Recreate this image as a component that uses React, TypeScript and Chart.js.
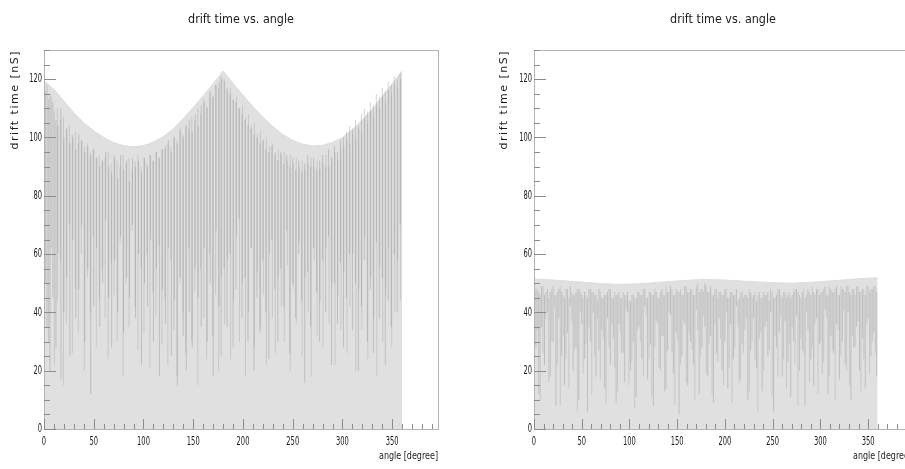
import React, { useEffect, useRef } from "react";
import { Chart, registerables } from "chart.js";

Chart.register(...registerables);

const FONT = "'DejaVu Sans', 'Liberation Sans', sans-serif";

const titleText = "drift time vs. angle";
const yTitleText = "drift time [nS]";
const xTitleText = "angle [degree]";

// axis ticks
const angleTicks = [0, 50, 100, 150, 200, 250, 300, 350];
const timeTicks = [0, 20, 40, 60, 80, 100, 120];
const angleMax = 396;
const timeMax = 130;

// upper envelope of the drift time, left panel
const leftEnvAngle = [0, 10, 20, 30, 40, 50, 60, 70, 80, 90, 100, 110, 120, 130, 140, 150, 160, 170, 180, 190, 200, 210, 220, 230, 240, 250, 260, 270, 280, 290, 300, 310, 320, 330, 340, 350, 360];
const leftEnvTime = [119.5, 116.5, 112.5, 108.5, 105, 102.3, 100, 98.2, 97.2, 96.8, 97.2, 98.4, 100.3, 103, 106.5, 110.3, 114.3, 118.4, 122.8, 118.6, 114.5, 110.6, 107, 103.8, 101, 99, 97.7, 97.1, 97.3, 98.3, 100, 102.7, 106, 109.8, 114, 118.4, 122.9];

// upper envelope of the drift time, right panel
const rightEnvAngle = [0, 20, 45, 70, 90, 110, 135, 160, 180, 200, 225, 250, 270, 290, 315, 340, 360];
const rightEnvTime = [51.4, 51.1, 50.5, 49.9, 49.6, 49.8, 50.4, 51, 51.3, 51.1, 50.6, 50.2, 50, 50.3, 50.9, 51.5, 51.9];

// hit streaks, left panel (first pass)
const leftStreakAngle = [3, 6, 9, 12, 14, 17, 20, 23, 26, 29, 32, 35, 38, 41, 44, 47, 50, 53, 56, 59, 62, 65, 68, 71, 74, 77, 80, 83, 86, 89, 92, 95, 98, 101, 104, 107, 110, 113, 116, 119, 122, 125, 128, 131, 134, 137, 140, 143, 146, 149, 152, 155, 158, 161, 164, 167, 170, 173, 176, 178, 181, 184, 187, 190, 193, 196, 199, 202, 205, 208, 211, 214, 217, 220, 223, 226, 229, 232, 235, 238, 241, 244, 247, 250, 253, 256, 259, 262, 265, 268, 271, 274, 277, 280, 283, 286, 289, 292, 295, 298, 301, 304, 307, 310, 313, 316, 319, 322, 325, 328, 331, 334, 337, 340, 343, 346, 349, 352, 355, 358];
const leftStreakLow = [35, 20, 45, 28, 60, 17, 40, 52, 25, 65, 38, 48, 70, 30, 55, 12, 42, 62, 35, 50, 72, 45, 28, 58, 40, 66, 33, 52, 45, 70, 38, 60, 22, 50, 42, 65, 30, 55, 18, 48, 36, 62, 25, 44, 15, 52, 32, 20, 40, 28, 55, 45, 35, 62, 30, 50, 18, 68, 42, 25, 55, 35, 60, 28, 48, 72, 38, 52, 30, 62, 20, 45, 33, 58, 40, 24, 65, 48, 30, 55, 42, 68, 26, 50, 38, 60, 44, 16, 54, 35, 62, 47, 30, 58, 40, 66, 22, 50, 36, 57, 28, 45, 60, 34, 50, 20, 42, 58, 30, 48, 26, 64, 38, 52, 22, 44, 35, 60, 40, 70];
const leftStreakHigh = [118, 115, 112, 106, 104, 110, 100, 103, 98, 100, 96, 101, 99, 95, 97, 94, 96, 93, 90, 92, 95, 90, 88, 93, 86, 94, 89, 92, 85, 93, 90, 92, 88, 93, 90, 94, 92, 95, 93, 96, 97, 99, 95, 100, 98, 103, 100, 104, 106, 102, 108, 104, 111, 112, 110, 116, 114, 118, 119, 121, 120, 117, 115, 113, 112, 110, 108, 106, 104, 103, 101, 100, 98, 99, 96, 95, 97, 94, 92, 95, 91, 94, 90, 93, 89, 92, 88, 91, 94, 90, 93, 89, 92, 94, 90, 96, 93, 97, 95, 99, 100, 102, 104, 103, 106, 104, 108, 110, 109, 112, 111, 115, 114, 117, 116, 119, 118, 121, 120, 122];

// hit streaks, left panel (second pass, interleaved)
const leftStreak2Angle = [1.5, 4.5, 7.5, 10.5, 13.5, 16.5, 19.5, 22.5, 25.5, 28.5, 31.5, 34.5, 37.5, 40.5, 43.5, 46.5, 49.5, 52.5, 55.5, 58.5, 61.5, 64.5, 67.5, 70.5, 73.5, 76.5, 79.5, 82.5, 85.5, 88.5, 91.5, 94.5, 97.5, 100.5, 103.5, 106.5, 109.5, 112.5, 115.5, 118.5, 121.5, 124.5, 127.5, 130.5, 133.5, 136.5, 139.5, 142.5, 145.5, 148.5, 151.5, 154.5, 157.5, 160.5, 163.5, 166.5, 169.5, 172.5, 175.5, 178.5, 181.5, 184.5, 187.5, 190.5, 193.5, 196.5, 199.5, 202.5, 205.5, 208.5, 211.5, 214.5, 217.5, 220.5, 223.5, 226.5, 229.5, 232.5, 235.5, 238.5, 241.5, 244.5, 247.5, 250.5, 253.5, 256.5, 259.5, 262.5, 265.5, 268.5, 271.5, 274.5, 277.5, 280.5, 283.5, 286.5, 289.5, 292.5, 295.5, 298.5, 301.5, 304.5, 307.5, 310.5, 313.5, 316.5, 319.5, 322.5, 325.5, 328.5, 331.5, 334.5, 337.5, 340.5, 343.5, 346.5, 349.5, 352.5, 355.5, 358.5];
const leftStreak2Low = [50, 30, 62, 22, 44, 58, 15, 36, 70, 26, 48, 33, 60, 20, 52, 40, 66, 28, 45, 55, 38, 24, 57, 46, 30, 64, 18, 50, 35, 68, 42, 27, 55, 33, 60, 21, 47, 39, 63, 29, 45, 22, 58, 34, 18, 50, 40, 26, 62, 30, 47, 15, 55, 38, 24, 60, 32, 46, 20, 52, 36, 58, 24, 44, 66, 30, 50, 18, 40, 62, 28, 54, 35, 46, 22, 60, 38, 26, 52, 42, 30, 56, 20, 48, 36, 64, 25, 52, 40, 18, 58, 32, 44, 28, 62, 36, 50, 22, 46, 34, 54, 26, 42, 60, 20, 48, 34, 66, 24, 52, 38, 18, 56, 30, 46, 62, 28, 40, 58, 44];
const leftStreak2High = [116, 113, 114, 109, 110, 106, 107, 103, 104, 101, 102, 98, 99, 97, 98, 95, 96, 93, 94, 92, 93, 95, 91, 94, 92, 90, 94, 91, 93, 89, 92, 94, 90, 93, 91, 94, 92, 95, 93, 96, 96, 98, 97, 100, 99, 102, 101, 104, 103, 107, 106, 110, 108, 113, 111, 115, 114, 118, 117, 120, 119, 116, 117, 113, 114, 110, 111, 107, 108, 104, 105, 101, 102, 99, 100, 97, 98, 95, 96, 94, 95, 92, 94, 91, 93, 90, 92, 89, 91, 93, 90, 92, 89, 91, 94, 90, 93, 95, 92, 96, 97, 99, 98, 101, 100, 103, 102, 106, 105, 109, 107, 111, 110, 114, 112, 116, 115, 118, 117, 120];

// hit streaks, right panel (first pass)
const rightStreakAngle = [2, 5, 8, 11, 14, 17, 20, 23, 26, 29, 32, 35, 38, 41, 44, 47, 50, 53, 56, 59, 62, 65, 68, 71, 74, 77, 80, 83, 86, 89, 92, 95, 98, 101, 104, 107, 110, 113, 116, 119, 122, 125, 128, 131, 134, 137, 140, 143, 146, 149, 152, 155, 158, 161, 164, 167, 170, 173, 176, 179, 182, 185, 188, 191, 194, 197, 200, 203, 206, 209, 212, 215, 218, 221, 224, 227, 230, 233, 236, 239, 242, 245, 248, 251, 254, 257, 260, 263, 266, 269, 272, 275, 278, 281, 284, 287, 290, 293, 296, 299, 302, 305, 308, 311, 314, 317, 320, 323, 326, 329, 332, 335, 338, 341, 344, 347, 350, 353, 356, 359];
const rightStreakLow = [28, 12, 35, 22, 40, 18, 30, 8, 38, 25, 15, 33, 42, 20, 28, 10, 36, 24, 6, 30, 40, 18, 27, 34, 14, 38, 22, 31, 9, 36, 26, 16, 40, 20, 30, 11, 35, 24, 42, 17, 29, 8, 37, 21, 32, 13, 27, 39, 19, 33, 5, 25, 36, 15, 30, 22, 41, 12, 28, 35, 18, 32, 9, 26, 38, 20, 30, 14, 36, 24, 42, 16, 29, 34, 10, 27, 38, 21, 31, 13, 35, 25, 40, 6, 28, 33, 18, 37, 23, 11, 30, 39, 20, 27, 8, 34, 24, 15, 38, 29, 19, 41, 12, 32, 26, 36, 17, 30, 22, 40, 10, 28, 35, 20, 31, 14, 38, 25, 33, 18];
const rightStreakHigh = [48, 47, 49, 46, 48, 47, 49, 46, 48, 47, 45, 48, 49, 46, 47, 48, 46, 47, 45, 48, 47, 46, 48, 45, 46, 47, 48, 45, 46, 47, 45, 46, 47, 44, 46, 45, 47, 46, 48, 45, 47, 46, 47, 45, 48, 46, 47, 49, 46, 48, 47, 46, 49, 47, 48, 46, 49, 47, 48, 50, 47, 49, 46, 48, 47, 46, 48, 45, 47, 46, 48, 45, 47, 46, 45, 47, 46, 44, 47, 45, 46, 47, 48, 45, 46, 48, 45, 47, 46, 45, 47, 48, 46, 47, 45, 48, 46, 47, 48, 46, 47, 49, 46, 48, 47, 49, 46, 48, 47, 49, 46, 48, 49, 47, 48, 46, 49, 48, 49, 47];

// hit streaks, right panel (second pass, interleaved)
const rightStreak2Angle = [0.5, 3.5, 6.5, 9.5, 12.5, 15.5, 18.5, 21.5, 24.5, 27.5, 30.5, 33.5, 36.5, 39.5, 42.5, 45.5, 48.5, 51.5, 54.5, 57.5, 60.5, 63.5, 66.5, 69.5, 72.5, 75.5, 78.5, 81.5, 84.5, 87.5, 90.5, 93.5, 96.5, 99.5, 102.5, 105.5, 108.5, 111.5, 114.5, 117.5, 120.5, 123.5, 126.5, 129.5, 132.5, 135.5, 138.5, 141.5, 144.5, 147.5, 150.5, 153.5, 156.5, 159.5, 162.5, 165.5, 168.5, 171.5, 174.5, 177.5, 180.5, 183.5, 186.5, 189.5, 192.5, 195.5, 198.5, 201.5, 204.5, 207.5, 210.5, 213.5, 216.5, 219.5, 222.5, 225.5, 228.5, 231.5, 234.5, 237.5, 240.5, 243.5, 246.5, 249.5, 252.5, 255.5, 258.5, 261.5, 264.5, 267.5, 270.5, 273.5, 276.5, 279.5, 282.5, 285.5, 288.5, 291.5, 294.5, 297.5, 300.5, 303.5, 306.5, 309.5, 312.5, 315.5, 318.5, 321.5, 324.5, 327.5, 330.5, 333.5, 336.5, 339.5, 342.5, 345.5, 348.5, 351.5, 354.5, 357.5];
const rightStreak2Low = [20, 34, 10, 26, 38, 16, 30, 42, 22, 8, 32, 24, 14, 37, 27, 6, 40, 19, 29, 35, 12, 25, 38, 17, 31, 9, 28, 36, 21, 13, 33, 26, 41, 15, 23, 7, 34, 30, 18, 39, 24, 11, 28, 36, 20, 32, 14, 40, 26, 8, 30, 22, 37, 16, 33, 27, 10, 34, 25, 39, 19, 29, 12, 36, 23, 31, 15, 40, 21, 9, 28, 35, 17, 26, 38, 13, 30, 24, 6, 33, 20, 37, 27, 11, 32, 18, 39, 24, 14, 29, 35, 22, 8, 31, 26, 40, 16, 28, 36, 12, 30, 23, 38, 18, 27, 10, 34, 25, 41, 20, 15, 32, 28, 37, 13, 24, 36, 19, 30, 26];
const rightStreak2High = [47, 48, 46, 49, 47, 45, 48, 46, 47, 49, 46, 48, 45, 47, 46, 48, 47, 45, 46, 48, 47, 46, 44, 47, 45, 46, 48, 45, 47, 46, 45, 47, 46, 44, 46, 45, 47, 46, 48, 45, 47, 46, 48, 45, 47, 46, 49, 47, 48, 46, 47, 48, 46, 49, 47, 48, 46, 50, 48, 47, 49, 47, 46, 48, 45, 47, 46, 48, 45, 47, 46, 44, 47, 45, 46, 48, 45, 47, 46, 45, 47, 46, 44, 47, 45, 48, 46, 47, 45, 47, 46, 48, 47, 45, 48, 46, 47, 49, 46, 48, 47, 48, 46, 49, 47, 48, 46, 49, 48, 49, 47, 48, 46, 49, 47, 48, 49, 47, 48, 49];

type PanelProps = {
  left: number;
  width: number;
  yAxisWidth: number;
  frameRight: number;
  yTitleX: number;
  envAngle: number[];
  envTime: number[];
  streaks: { angle: number[]; low: number[]; high: number[] }[];
};

function streakPoints(angle: number[], low: number[], high: number[]) {
  const pts: { x: number; y: number | null }[] = [];
  angle.forEach((a, i) => {
    pts.push({ x: a, y: low[i] });
    pts.push({ x: a, y: high[i] });
    pts.push({ x: a, y: null });
  });
  return pts;
}

// narrow text: draw with a horizontal squeeze
function narrowText(ctx: CanvasRenderingContext2D, text: string, x: number, y: number, squeeze: number) {
  ctx.save();
  ctx.translate(x, y);
  ctx.scale(squeeze, 1);
  ctx.fillText(text, 0, 0);
  ctx.restore();
}

function Panel(props: PanelProps) {
  const ref = useRef<HTMLCanvasElement>(null);

  useEffect(() => {
    const canvas = ref.current;
    if (!canvas) return;

    const axisDecor = {
      id: "axisDecor",
      afterDraw(chart: any) {
        const { ctx, chartArea } = chart;
        const { left, top, right, bottom } = chartArea;
        const x = chart.scales.x;
        const y = chart.scales.y;
        ctx.save();

        // frame
        ctx.strokeStyle = "#b4b4b4";
        ctx.lineWidth = 1;
        ctx.strokeRect(Math.round(left) + 0.5, Math.round(top) + 0.5, Math.round(right - left), Math.round(bottom - top));

        // ticks drawn inward
        ctx.strokeStyle = "#8c8c8c";
        ctx.beginPath();
        for (let v = 0; v <= timeMax; v += 5) {
          const py = Math.round(y.getPixelForValue(v)) + 0.5;
          const len = v % 20 === 0 ? 12 : 6;
          ctx.moveTo(left, py);
          ctx.lineTo(left + len, py);
        }
        for (let v = 0; v <= angleMax; v += 10) {
          const px = Math.round(x.getPixelForValue(v)) + 0.5;
          const len = v % 50 === 0 ? 10 : 5;
          ctx.moveTo(px, bottom);
          ctx.lineTo(px, bottom - len);
        }
        ctx.stroke();

        ctx.fillStyle = "#1a1a1a";

        // tick labels
        ctx.font = `12px ${FONT}`;
        ctx.textBaseline = "middle";
        ctx.textAlign = "right";
        timeTicks.forEach((v) => {
          narrowText(ctx, String(v), left - 2, y.getPixelForValue(v), 0.56);
        });
        ctx.textAlign = "center";
        angleTicks.forEach((v) => {
          narrowText(ctx, String(v), x.getPixelForValue(v), bottom + 13, 0.56);
        });

        // title
        ctx.font = `13px ${FONT}`;
        ctx.textAlign = "center";
        narrowText(ctx, titleText, (left + right) / 2, 20, 0.86);

        // x axis title
        ctx.font = `10px ${FONT}`;
        ctx.textAlign = "right";
        narrowText(ctx, xTitleText, right, 456, 0.8);

        // y axis title
        ctx.translate(props.yTitleX, top);
        ctx.rotate(-Math.PI / 2);
        ctx.font = `11px ${FONT}`;
        (ctx as any).letterSpacing = "1.5px";
        ctx.textAlign = "right";
        ctx.fillText(yTitleText, 0, 0);
        ctx.restore();
      },
    };

    const streakSets = props.streaks.map((s, i) => ({
      label: `hits ${i + 1}`,
      data: streakPoints(s.angle, s.low, s.high),
      fill: false,
      borderColor: i === 0 ? "rgba(125,125,125,0.34)" : "rgba(135,135,135,0.28)",
      borderWidth: 1,
      pointRadius: 0,
      spanGaps: false,
      order: 1,
    }));

    const chart = new Chart(canvas, {
      type: "line",
      data: {
        datasets: [
          {
            label: "envelope",
            data: props.envAngle.map((a, i) => ({ x: a, y: props.envTime[i] })),
            fill: "origin",
            backgroundColor: "#e0e0e0",
            borderColor: "#dcdcdc",
            borderWidth: 1,
            pointRadius: 0,
            tension: 0,
            order: 2,
          },
          ...streakSets,
        ],
      },
      options: {
        responsive: false,
        animation: false,
        events: [],
        layout: {
          padding: { top: 50, right: props.width - props.frameRight, bottom: 0, left: 0 },
        },
        plugins: {
          legend: { display: false },
          tooltip: { enabled: false },
        },
        scales: {
          x: {
            type: "linear",
            min: 0,
            max: angleMax,
            grid: { display: false, drawTicks: false },
            border: { display: false },
            afterFit: (s: any) => {
              s.height = 40;
            },
            afterBuildTicks: (s: any) => {
              s.ticks = angleTicks.map((v) => ({ value: v }));
            },
            ticks: { display: false },
          },
          y: {
            type: "linear",
            min: 0,
            max: timeMax,
            grid: { display: false, drawTicks: false },
            border: { display: false },
            afterFit: (s: any) => {
              s.width = props.yAxisWidth;
            },
            afterBuildTicks: (s: any) => {
              s.ticks = timeTicks.map((v) => ({ value: v }));
            },
            ticks: { display: false },
          },
        },
      } as any,
      plugins: [axisDecor],
    });

    return () => chart.destroy();
  }, []);

  return (
    <canvas
      ref={ref}
      width={props.width}
      height={469}
      style={{ position: "absolute", left: props.left, top: 0, width: props.width, height: 469 }}
    />
  );
}

export default function App() {
  return (
    <div
      style={{
        position: "fixed",
        left: 0,
        top: 0,
        width: 905,
        height: 469,
        overflow: "hidden",
        background: "#ffffff",
      }}
    >
      <Panel
        left={0}
        width={452}
        yAxisWidth={44}
        frameRight={438}
        yTitleX={15}
        envAngle={leftEnvAngle}
        envTime={leftEnvTime}
        streaks={[
          { angle: leftStreakAngle, low: leftStreakLow, high: leftStreakHigh },
          { angle: leftStreak2Angle, low: leftStreak2Low, high: leftStreak2High },
        ]}
      />
      <Panel
        left={452}
        width={475}
        yAxisWidth={82}
        frameRight={460}
        yTitleX={52}
        envAngle={rightEnvAngle}
        envTime={rightEnvTime}
        streaks={[
          { angle: rightStreakAngle, low: rightStreakLow, high: rightStreakHigh },
          { angle: rightStreak2Angle, low: rightStreak2Low, high: rightStreak2High },
        ]}
      />
    </div>
  );
}
